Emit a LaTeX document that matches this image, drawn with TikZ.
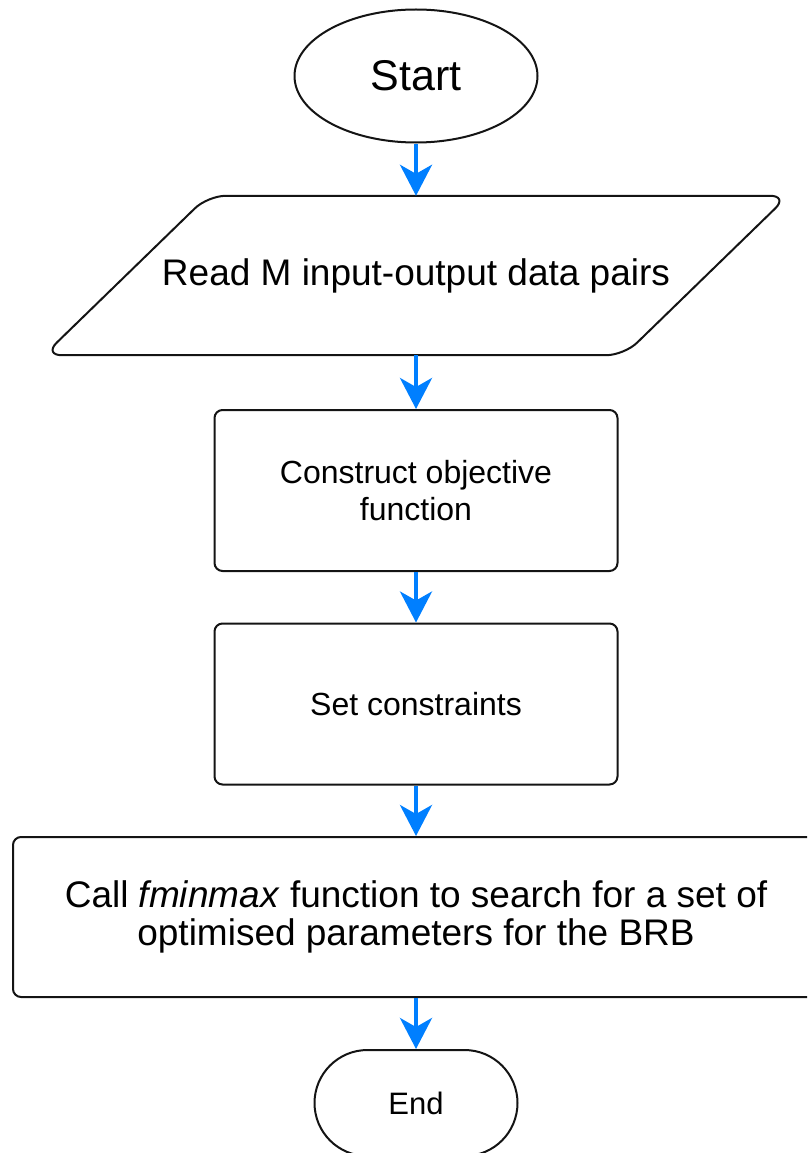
\documentclass[tikz,border=0pt]{standalone}
\usepackage{fontspec}
\setmainfont{Liberation Sans}
\usetikzlibrary{shapes.geometric,shapes.misc,arrows.meta}
\definecolor{flowblue}{RGB}{0,127,255}
\definecolor{edge}{RGB}{20,20,20}

\tikzset{
  shapeline/.style={draw=edge, line width=2pt, fill=white, inner sep=0pt, align=center, text=black},
  terminal/.style={shapeline, ellipse, minimum width=243pt, minimum height=133pt},
  endcap/.style={shapeline, rounded rectangle, minimum width=203pt, minimum height=106pt},
  iobody/.style={inner sep=0pt, align=center, text=black, rectangle,
    minimum width=580pt, minimum height=159pt},
  ioedge/.style={draw=edge, line width=2pt, fill=white, rounded corners=18pt},
  procbox/.style={shapeline, rectangle, rounded corners=8pt},
  flow/.style={draw=flowblue, line width=4pt,
    -{Stealth[length=31pt, width=32pt, inset=9pt, color=flowblue]}}
}

\begin{document}
\begin{tikzpicture}[x=1pt, y=-1pt]
  \useasboundingbox (0,0) rectangle (807,1153);
  \clip (0,0) rectangle (807,1153);

  % flowchart steps
  \node[terminal, font=\fontsize{43}{46}\selectfont] (start) at (416,76) {Start};

  % input step: a slanted box drawn round the text node
  \node[iobody] (read) at (416,275.5) {};
  \draw[ioedge] ([xshift=82pt]read.north west) -- ([xshift=82pt]read.north east)
    -- ([xshift=-82pt]read.south east) -- ([xshift=-82pt]read.south west) -- cycle;
  \node[iobody, font=\fontsize{37}{40}\selectfont] at (read.center) {Read M input-output data pairs};

  \node[procbox, minimum width=403pt, minimum height=161pt,
        font=\fontsize{32}{37}\selectfont] (obj) at (416,490.5)
        {Construct objective\\function};
  \node[procbox, minimum width=403pt, minimum height=161pt,
        font=\fontsize{32}{37}\selectfont] (cons) at (416,704)
        {Set constraints};
  \node[procbox, minimum width=806pt, minimum height=160pt,
        font=\fontsize{37}{38}\selectfont] (call) at (416,917)
        {Call \textit{fminmax} function to search for a set of\\optimised parameters for the BRB};
  \node[endcap, font=\fontsize{31}{34}\selectfont] (end) at (416,1103) {End};

  % connectors
  \draw[flow] (start.south) -- (read.north);
  \draw[flow] (read.south) -- (obj.north);
  \draw[flow] (obj.south) -- (cons.north);
  \draw[flow] (cons.south) -- (call.north);
  \draw[flow] (call.south) -- (end.north);
\end{tikzpicture}
\end{document}
